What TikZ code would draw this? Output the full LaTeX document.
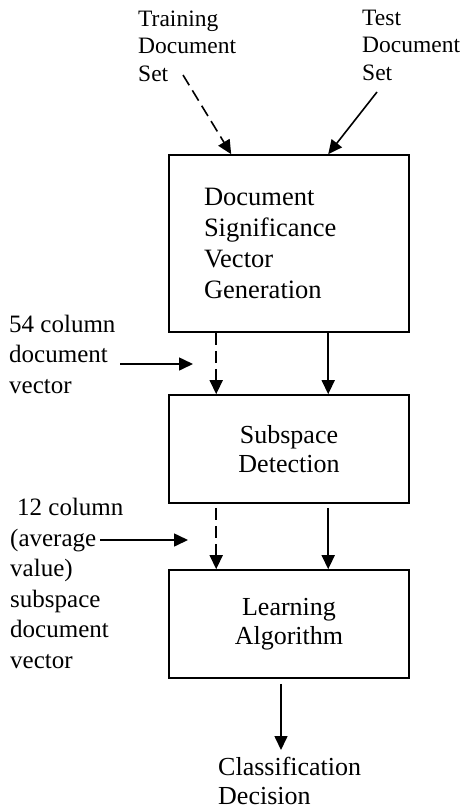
\documentclass[tikz,border=0pt]{standalone}
\usepackage{fontspec}
\setmainfont{Liberation Serif}
\usetikzlibrary{arrows.meta}
\begin{document}
\begin{tikzpicture}[x=1pt,y=-1pt]
    \tikzstyle{stage} = [draw, line width = 1.6pt, minimum width = 240pt, inner sep = 0pt];
    \tikzstyle{caption} = [align = left, inner sep = 0pt, anchor = base west, font = \fontsize{25}{30.5}\selectfont];
    \tikzstyle{flow} = [line width = 1.6pt, -{Triangle[length=14pt, width=13pt]}];
    \tikzstyle{train} = [flow, dash pattern = on 12pt off 6pt];
    \useasboundingbox (0,0) rectangle (463,811);
    % captions are anchored at the baseline of their last line
    \node[caption, font = \fontsize{23.5}{27.5}\selectfont] (trainset) at (138,81) {Training\\Document\\Set};
    \node[caption, font = \fontsize{23.5}{27.5}\selectfont] (testset) at (362,80) {Test\\Document\\Set};
    \node[stage, minimum height = 177pt, text width = 170pt, inner xsep = 35pt, align = left, font = \fontsize{26.5}{31}\selectfont] (dsvg) at (289,243.5) {Document\\Significance\\Vector\\Generation};
    \node[stage, minimum height = 108pt, align = center, font = \fontsize{26}{28.5}\selectfont] (subspace) at (289,449) {Subspace\\Detection};
    \node[stage, minimum height = 108pt, align = center, font = \fontsize{26}{28.5}\selectfont] (learning) at (289,624) {Learning\\Algorithm};
    \node[caption] (fiftyfour) at (9,393) {54 column\\document\\vector};
    \node[caption] (twelve) at (10,668) {\hspace*{7pt}12 column\\(average\\value)\\subspace\\document\\vector};
    \node[caption, font = \fontsize{26}{29}\selectfont] (decision) at (218,804) {Classification\\Decision};
    \coordinate (trainstart) at (183,75);
    \coordinate (teststart) at (377,92);
    \coordinate (fiftyfourtail) at (120,364);
    \coordinate (fiftyfourhead) at (193,364);
    \coordinate (twelvetail) at (100,540);
    \coordinate (twelvehead) at (188,540);
    \coordinate (decisiontop) at (281,750);
    \draw[train] (trainstart) -- ([xshift = 63pt]dsvg.north west);
    \draw[flow] (teststart) -- ([xshift = 160pt]dsvg.north west);
    \draw[train] ([xshift = 48pt]dsvg.south west) -- ([xshift = 48pt]subspace.north west);
    \draw[flow] ([xshift = 160pt]dsvg.south west) -- ([xshift = 160pt]subspace.north west);
    \draw[train] ([xshift = 48pt, yshift = -4pt]subspace.south west) -- ([xshift = 48pt]learning.north west);
    \draw[flow] ([xshift = 160pt, yshift = -4pt]subspace.south west) -- ([xshift = 160pt]learning.north west);
    \draw[flow] ([xshift = -8pt, yshift = -5pt]learning.south) -- (decisiontop);
    \draw[flow] (fiftyfourtail) -- (fiftyfourhead);
    \draw[flow] (twelvetail) -- (twelvehead);
\end{tikzpicture}
\end{document}
